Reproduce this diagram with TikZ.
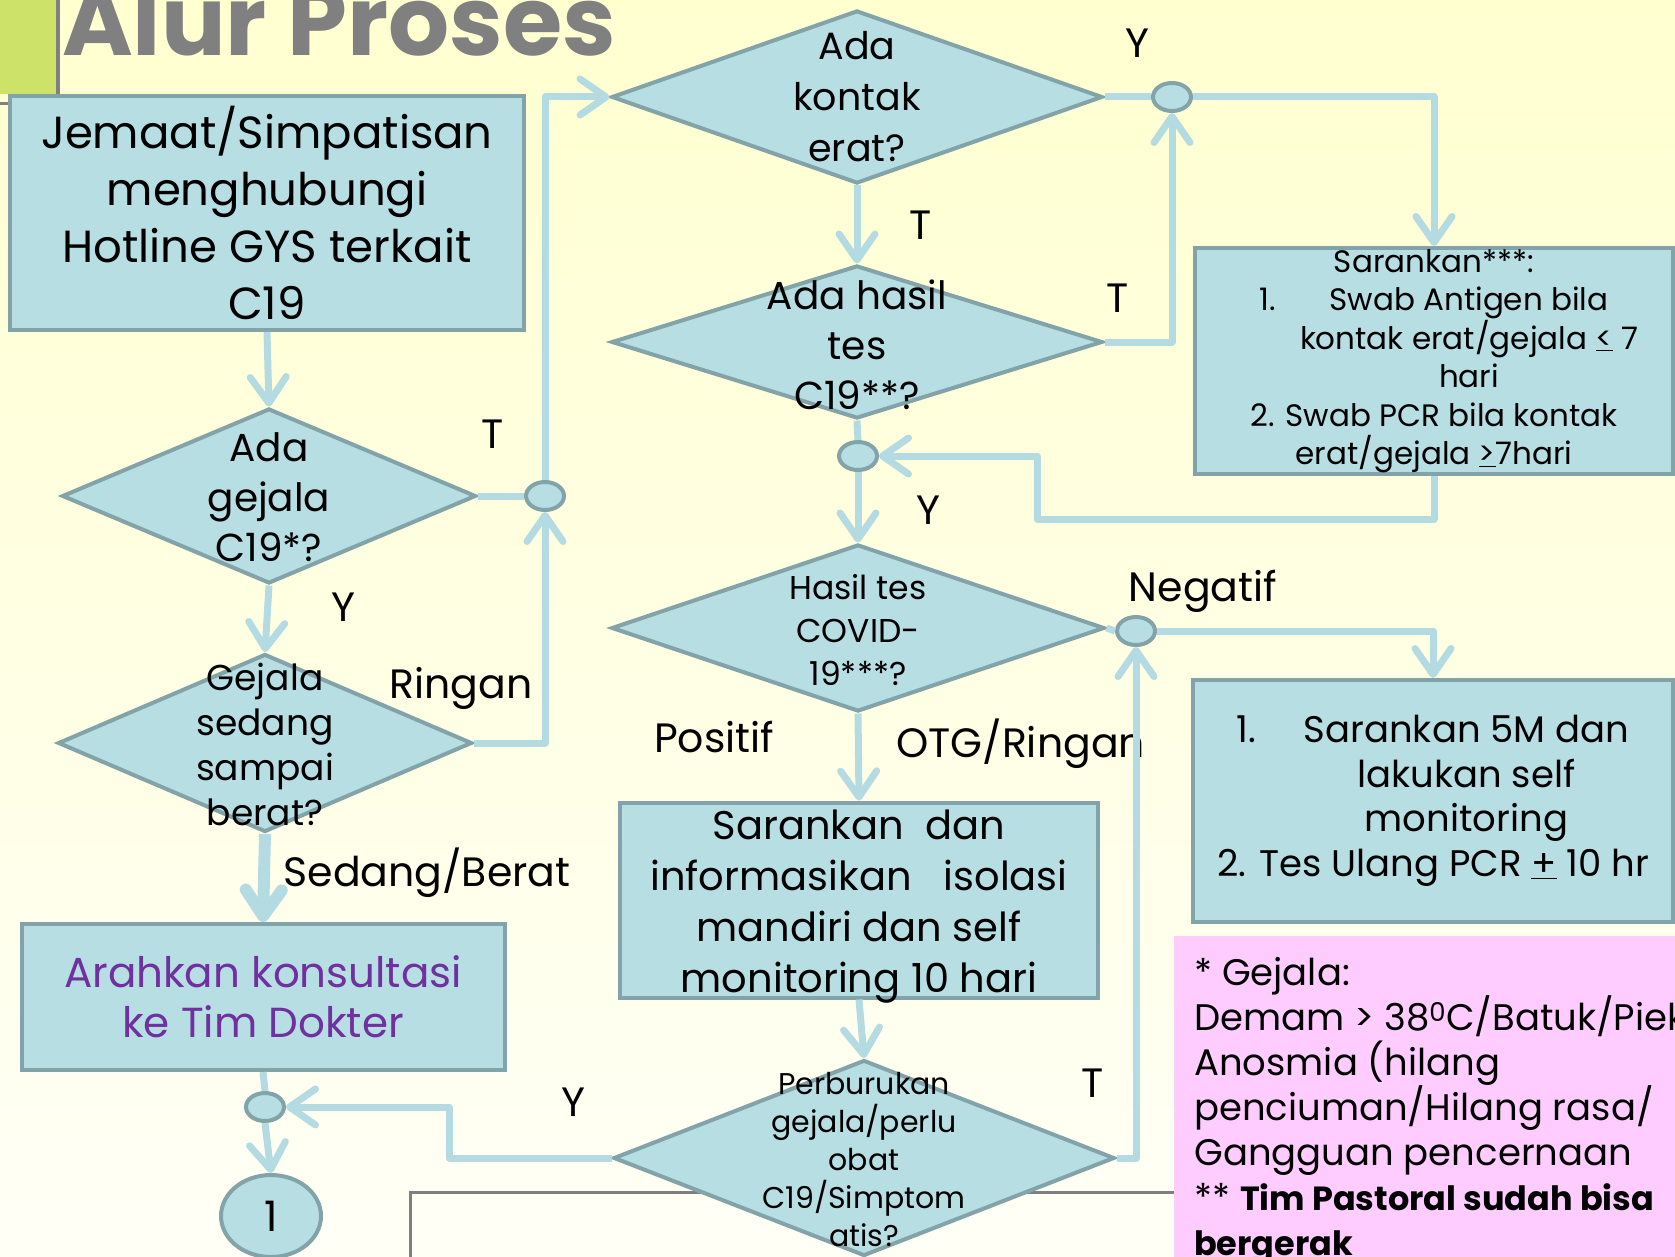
\documentclass[tikz,border=0pt]{standalone}
\usepackage{fontspec}
\setmainfont{Poppins}
\usetikzlibrary{shapes.geometric, arrows.meta, positioning, calc}
\definecolor{boxblue}{RGB}{183,222,227}
\definecolor{edgegray}{RGB}{130,163,168}
\definecolor{linkblue}{RGB}{180,219,226}
\definecolor{bgyellow}{RGB}{255,255,208}
\definecolor{bgwhite}{RGB}{255,255,246}
\definecolor{titlegray}{RGB}{128,128,128}
\definecolor{limegreen}{RGB}{205,226,104}
\definecolor{notepink}{RGB}{255,204,255}
\definecolor{textpurple}{RGB}{112,48,160}
\newcommand{\fsz}[2]{\fontsize{#1}{#2}\selectfont}

\begin{document}
\begin{tikzpicture}[x=1pt, y=-1pt,
        box/.style={rectangle, draw=edgegray, fill=boxblue, line width=4pt, inner sep=0pt, align=center},
        decision/.style={diamond, draw=edgegray, fill=boxblue, line width=4pt, inner sep=0pt},
        junction/.style={ellipse, draw=edgegray, fill=boxblue, line width=4pt, inner sep=0pt, minimum width=38pt, minimum height=28pt},
        dtext/.style={align=center, inner sep=0pt},
        lbl/.style={inner sep=0pt, anchor=base, font=\fsz{41}{50}},
        link/.style={draw=linkblue, line width=7pt, line join=round},
        arr/.style={link, -{Straight Barb[length=26pt, width=36pt, round]}}
    ]
        \useasboundingbox (0,0) rectangle (1675,1257);
        \clip (0,0) rectangle (1675,1257);
        \shade[top color=bgyellow, bottom color=bgwhite] (0,0) rectangle (1675,1257);

        % slide decoration
        \fill[limegreen] (0,0) rectangle (56,94);
        \draw[titlegray, line width=4pt] (58,0) -- (58,96);
        \draw[titlegray, line width=3pt] (0,104) -- (20,104);
        \node[anchor=base west, inner sep=0pt, text=titlegray, font=\fsz{96}{98}\bfseries] (title) at (62,56) {Alur Proses};
        \draw[titlegray, line width=3pt] (410,1262) -- (410,1192) -- (1180,1192);

        % note
        \fill[notepink] (1174,936) rectangle (1680,1262);
        \node[anchor=north west, align=left, inner sep=0pt, font=\fsz{37}{45}] (catatan) at (1194,957)
            {* Gejala:\\Demam > 38\textsuperscript{0}C/Batuk/Piek\\Anosmia (hilang\\penciuman/Hilang rasa/\\Gangguan pencernaan\\** {\fsz{33.5}{45}\bfseries Tim Pastoral sudah bisa}\\{\fsz{33.5}{45}\bfseries bergerak}};

        % left column
        \node[box, minimum width=514pt, minimum height=234pt, font=\fsz{45}{57}] (jemaat) at (267,213) {Jemaat/Simpatisan\\menghubungi\\Hotline GYS terkait\\C19};
        \node[decision, minimum width=414pt, minimum height=175pt] (gejala) at (269,496) {};
        \node[dtext, font=\fsz{39}{50}] (gejalatxt) at (269,497) {Ada\\gejala\\C19*?};
        \node[junction] (jgejala) at (545,496) {};
        \node[decision, minimum width=414pt, minimum height=178pt] (berat) at (265,743) {};
        \node[dtext, font=\fsz{36}{45}] (berattxt) at (265,744) {Gejala\\sedang\\sampai\\berat?};
        \node[box, minimum width=483pt, minimum height=146pt, font=\fsz{42}{50}, text=textpurple] (dokter) at (263,997) {Arahkan konsultasi\\ke Tim Dokter};
        \node[junction] (jdokter) at (265,1107) {};
        \node[ellipse, draw=edgegray, fill=boxblue, line width=4pt, inner sep=0pt, minimum width=100pt, minimum height=82pt, font=\fsz{42}{50}] (satu) at (271,1216) {1};

        % middle column
        \node[decision, minimum width=491pt, minimum height=173pt] (kontak) at (857,97) {};
        \node[dtext, font=\fsz{38}{51}] (kontaktxt) at (857,97) {Ada\\kontak\\erat?};
        \node[junction] (jkontak) at (1172,97) {};
        \node[decision, minimum width=491pt, minimum height=153pt] (hasil) at (857,342) {};
        \node[dtext, font=\fsz{39}{50}] (hasiltxt) at (857,345) {Ada hasil\\tes\\C19**?};
        \node[junction] (jhasil) at (858,456) {};
        \node[decision, minimum width=493pt, minimum height=167pt] (covid) at (858,628) {};
        \node[dtext, font=\fsz{33}{43}] (covidtxt) at (858,630) {Hasil tes\\COVID-\\19***?};
        \node[junction] (jcovid) at (1136,631) {};
        \node[box, minimum width=478pt, minimum height=195pt, font=\fsz{40}{51}] (isolasi) at (859,900) {};
        \node[dtext, font=\fsz{40}{51}] (isolasitxt) at (859,907) {Sarankan~ dan\\informasikan~~ isolasi\\mandiri dan self\\monitoring 10 hari};
        \node[decision, minimum width=501pt, minimum height=196pt] (buruk) at (864,1158) {};
        \node[dtext, font=\fsz{30}{38}] (buruktxt) at (864,1160) {Perburukan\\gejala/perlu\\obat\\C19/Simptom\\atis?};

        % right column
        \node[box, minimum width=478pt, minimum height=226pt, font=\fsz{31}{38.5}] (swab) at (1434,361)
            {Sarankan***:\\\makebox[70pt][l]{1.}Swab Antigen bila\\\hspace*{70pt}kontak erat/gejala \underline{<} 7\\\hspace*{70pt}hari\\2. Swab PCR bila kontak\\erat/gejala \underline{>}7hari};
        \node[box, minimum width=480pt, minimum height=242pt, font=\fsz{37}{44.5}] (limam) at (1433,801)
            {\makebox[67pt][l]{1.}Sarankan 5M dan\\\hspace*{67pt}lakukan self\\\hspace*{67pt}monitoring\\2. Tes Ulang PCR \underline{+} 10 hr};

        % branch labels
        \node[lbl] (tgejala) at (493,448) {T};
        \node[lbl] (ygejala) at (343,621) {Y};
        \node[lbl] (ringan) at (461,698) {Ringan};
        \node[lbl] (sedang) at (427,886) {Sedang/Berat};
        \node[lbl] (ykontak) at (1137,58) {Y};
        \node[lbl] (tkontak) at (921,240) {T};
        \node[lbl] (thasil) at (1118,312) {T};
        \node[lbl] (yhasil) at (928,524) {Y};
        \node[lbl] (negatif) at (1203,601) {Negatif};
        \node[lbl] (positif) at (714,752) {Positif};
        \node[lbl, anchor=base west] (otg) at (896,757) {OTG/Ringan};
        \node[lbl] (tburuk) at (1093,1097) {T};
        \node[lbl] (yburuk) at (573,1116) {Y};

        \coordinate (bendswab) at (1037,519);
        \coordinate (bendburuk) at (449,1158);

        % connectors
        \draw[arr] (jemaat.south) -- (gejala.north);
        \draw[link] (gejala.east) -- (jgejala.west);
        \draw[arr] (jgejala.north) |- (kontak.west);
        \draw[arr] (gejala.south) -- (berat.north);
        \draw[arr] (berat.east) -| (jgejala.south);
        \draw[arr, line width=12pt] (berat.south) -- (dokter.north);
        \draw[link] (dokter.south) -- (jdokter.north);
        \draw[arr] (jdokter.south) -- (satu.north);
        \draw[arr] (buruk.west) -- (bendburuk) |- (jdokter.east);
        \draw[link] (kontak.east) -- (jkontak.west);
        \draw[arr] (jkontak.east) -| (swab.north);
        \draw[arr] (kontak.south) -- (hasil.north);
        \draw[arr] (hasil.east) -| (jkontak.south);
        \draw[link] (hasil.south) -- (jhasil.north);
        \draw[arr] (jhasil.south) -- (covid.north);
        \draw[arr] (swab.south) |- (bendswab) |- (jhasil.east);
        \draw[link] (covid.east) -- (jcovid.west);
        \draw[arr] (jcovid.east) -| (limam.north);
        \draw[arr] (covid.south) -- (isolasi.north);
        \draw[arr] (isolasi.south) -- (buruk.north);
        \draw[arr] (buruk.east) -| (jcovid.south);
    \end{tikzpicture}
\end{document}
